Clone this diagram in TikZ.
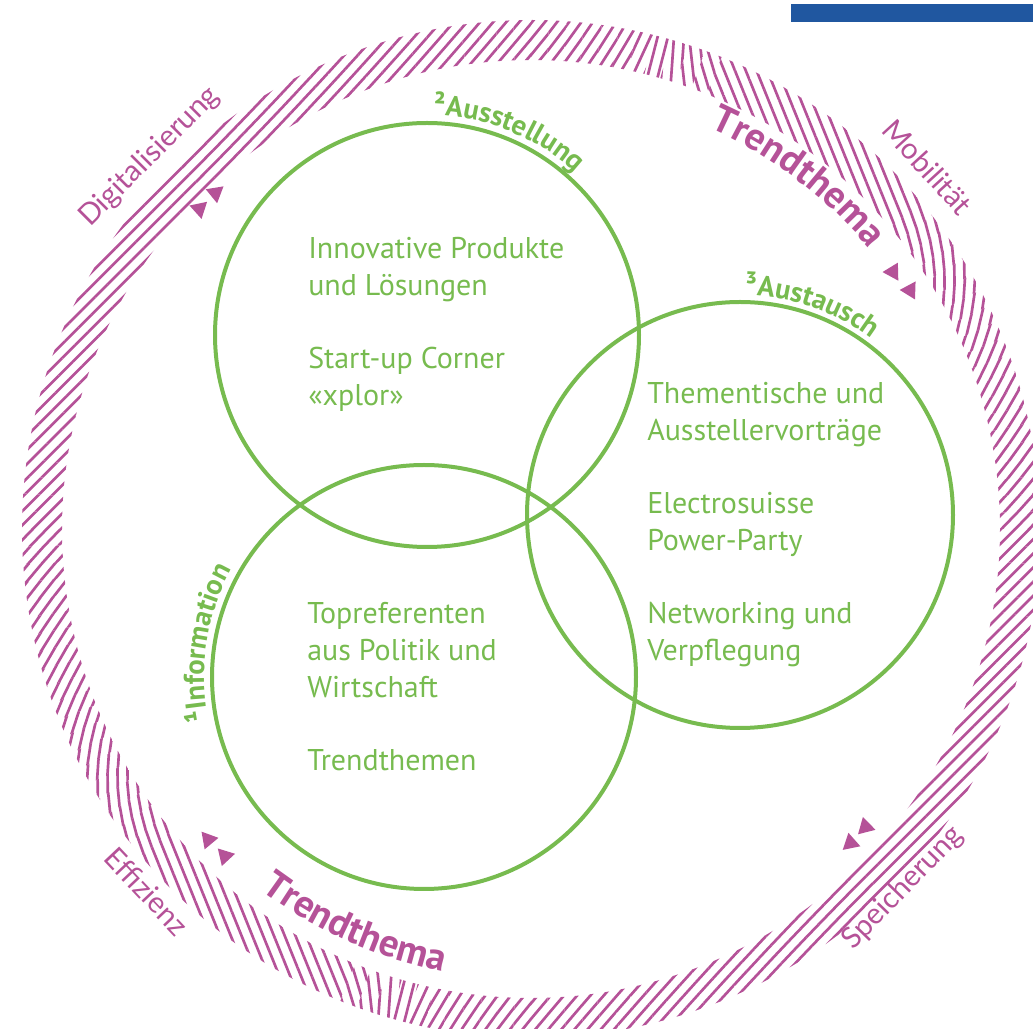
\documentclass[tikz,border=0pt]{standalone}
\usepackage{fontspec}
\setmainfont{PT Sans}
\newfontfamily\outerfont{Lato}
\usetikzlibrary{decorations.text}

\definecolor{vmag}{RGB}{181,82,152}
\definecolor{vgreen}{RGB}{119,187,79}
\definecolor{vblue}{RGB}{32,87,160}

\newcommand\vennfont{\fontsize{21.5}{25}\selectfont\bfseries\color{vgreen}}
\newcommand\trendfont{\fontsize{29}{34}\selectfont\bfseries\color{vmag}}
% small triangle pair marks, #1 angle on the ring, #2 radius
\newcommand\ringtri[2]{\fill[vmag, shift={(531,500)}, rotate=#1, shift={(#2,0)}, rotate=146] (0:10.4) -- (120:10.4) -- (240:10.4) -- cycle;}

\tikzset{
  hatch/.style={vmag, line width=2pt},
  vennring/.style={vgreen, line width=3pt},
  bodytext/.style={anchor=north west, inner sep=0pt, align=left, text=vgreen, font=\fontsize{22.5}{27.75}\selectfont},
  ringlabel/.style={inner sep=0pt, text=vmag, font=\outerfont\fontsize{22}{26}\selectfont},
}

\begin{document}
\begin{tikzpicture}[x=0.75pt, y=0.75pt,
  declare function={hdir(\q)=(\q<20) ? 45+\q : ((\q<40) ? 65+2.35*(\q-20) : ((\q<68) ? 112 : ((\q<78) ? 112-5.2*(\q-68) : ((\q<90) ? 60-0.83*(\q-78) : ((\q<135) ? 50-(\q-90)/9 : 45)))));
    hatchdir(\p)=hdir(mod(\p,180));}]
\clip (0,0) rectangle (1033,1029);
\fill[vblue] (791,1007) rectangle (1033,1025);

\coordinate (ring) at (531,500);
\coordinate (ausst) at (427,694);
\coordinate (austa) at (740,514);
\coordinate (info) at (424,352);

% hatched ring, sector by sector, lines kept in phase across sectors
\gdef\hphase{0}
\begin{scope}[shift={(ring)}]
\foreach \k in {0,...,179} {
  \pgfmathsetmacro\pa{150+2*\k}
  \pgfmathsetmacro\pb{\pa+2}
  \pgfmathsetmacro\th{hatchdir(\pa+1)}
  \pgfmathsetmacro\cz{489*cos(\pa-\th-90)-\hphase}
  \pgfmathsetmacro\cm{489*cos(\pa+1-\th-90)}
  \pgfmathsetmacro\tm{489*cos(\pa+1-\th)}
  \pgfmathtruncatemacro\kz{round((\cm-\cz)/10)}
  \pgfmathsetmacro\ce{489*cos(\pb-\th-90)}
  \pgfmathsetmacro\fnew{mod(mod(\ce-\cz,10)+10,10)}
  \xdef\hphase{\fnew}
  \begin{scope}
    \clip (\pa:469) arc[start angle=\pa, end angle=\pb, radius=469] -- (\pb:509) arc[start angle=\pb, end angle=\pa, radius=509] -- cycle;
    \foreach \j in {-4,...,4}
      \draw[hatch] ([shift={(\th:\tm-50)}]\th+90:{\cz+(\kz+\j)*10}) -- ++(\th:100);
  \end{scope}
}
\end{scope}

\ringtri{133.2}{461} \ringtri{136.0}{461}
\ringtri{32.2}{448} \ringtri{35.4}{444}
\ringtri{-44.5}{448} \ringtri{-41.7}{448}
\ringtri{223.9}{448} \ringtri{226.9}{448}

\node[ringlabel, rotate=45] (digital) at ([shift={(135.7:533)}]ring) {Digitalisierung};
\node[ringlabel, rotate=-47.6] (mobil) at ([shift={(42.4:537)}]ring) {Mobilität};
\node[ringlabel, rotate=-46.7] (effizienz) at ([shift={(223.3:528)}]ring) {Effizienz};
\node[ringlabel, rotate=46] (speicher) at ([shift={(-44:517)}]ring) {Speicherung};

\path[decorate, decoration={text along path, text={|\trendfont|Trendthema}, text align=center}]
  ([shift={(82.8:439)}]ring) arc[start angle=82.8, end angle=22.8, radius=439];
\path[decorate, decoration={text along path, text={|\trendfont|Trendthema}, text align=center}]
  ([shift={(216:451)}]ring) arc[start angle=216, end angle=276, radius=451];

% the three circles
\draw[vennring] (ausst) circle (212);
\draw[vennring] (austa) circle (213);
\draw[vennring] (info) circle (212);

\path[decorate, decoration={text along path, text={|\vennfont|²Ausstellung}, text align=center}]
  ([shift={(108:220)}]ausst) arc[start angle=108, end angle=28, radius=220];
\path[decorate, decoration={text along path, text={|\vennfont|³Austausch}, text align=center}]
  ([shift={(111:220)}]austa) arc[start angle=111, end angle=31, radius=220];
\path[decorate, decoration={text along path, text={|\vennfont|¹Information}, text align=center}]
  ([shift={(211:220)}]info) arc[start angle=211, end angle=131, radius=220];

\node[bodytext] (ausstext) at (308,792) {Innovative Produkte\\und Lösungen\\[27pt]Start-up Corner\\«xplor»};
\node[bodytext] (austext) at (647,647) {Thementische und\\Ausstellervorträge\\[27pt]Electrosuisse\\Power-Party\\[27pt]Networking und\\Verpflegung};
\node[bodytext] (infotext) at (307,427) {Topreferenten\\aus Politik und\\Wirtschaft\\[27pt]Trendthemen};
\end{tikzpicture}
\end{document}
